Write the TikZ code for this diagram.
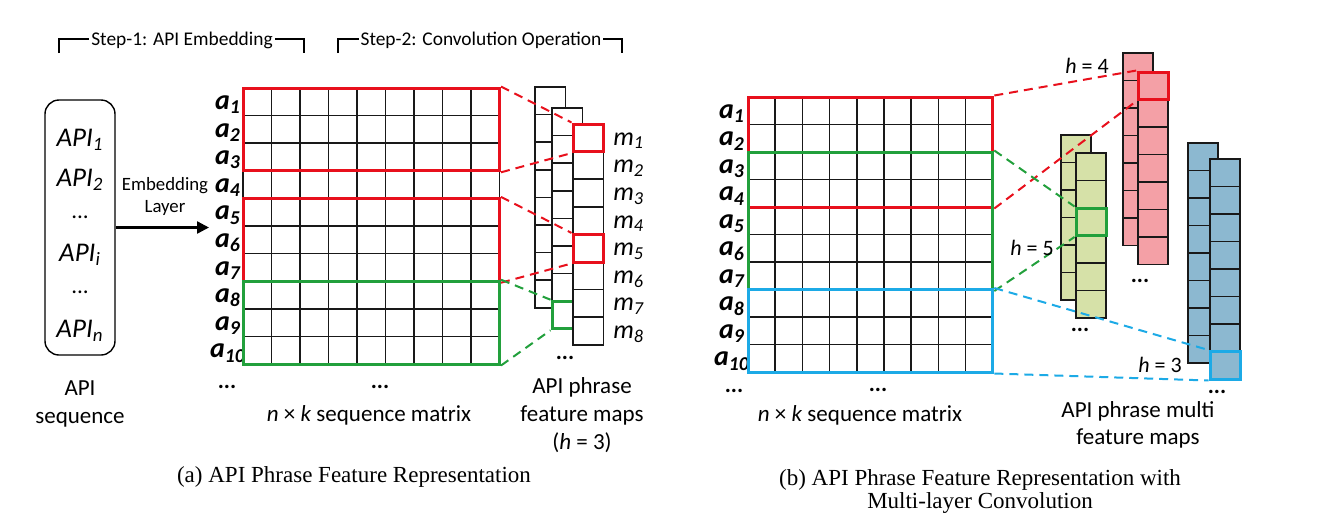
\documentclass[tikz,border=0pt]{standalone}
\usepackage{fontspec}
\setmainfont{Carlito}
\newfontfamily\capfont{Liberation Serif}
\usepackage{tikz}
\usetikzlibrary{arrows.meta}
\usetikzlibrary{fit}
\usetikzlibrary{positioning}
\definecolor{Cred}{RGB}{232,16,28}
\definecolor{Cgreen}{RGB}{34,160,60}
\definecolor{Cblue}{RGB}{28,170,230}
\definecolor{Pred}{RGB}{244,160,166}
\definecolor{Pgreen}{RGB}{214,225,168}
\definecolor{Pblue}{RGB}{140,184,208}

\begin{document}
\begin{tikzpicture}[x=0.5pt,y=-0.5pt]
	\tikzset{
		T/.style={font=\fontsize{11.5}{13.8}\selectfont,inner sep=0pt,align=center},
		S/.style={font=\fontsize{9.7}{11}\selectfont,inner sep=1pt,fill=white},
		P/.style={font=\fontsize{13.5}{15}\selectfont\itshape,inner sep=0pt},
		A/.style={font=\fontsize{14}{15}\selectfont\bfseries\itshape,inner sep=0pt},
		M/.style={font=\fontsize{13}{14}\selectfont\itshape,inner sep=0pt,anchor=west},
		H/.style={font=\fontsize{11}{12}\selectfont,inner sep=0pt},
		D/.style={font=\fontsize{11.5}{14}\selectfont\bfseries,inner sep=0pt},
		Cap/.style={font=\capfont\fontsize{11.5}{11.5}\selectfont,inner sep=0pt,align=center},
		cell/.style={draw=black!90,line width=0.8pt},
		box/.style={draw=#1,line width=1.5pt,inner sep=0pt},
		dl/.style={draw=#1,line width=1pt,dash pattern=on 4.5pt off 3pt},
	}
	\useasboundingbox (0,0) rectangle (1328,526);
	
	% (a) step brackets
	\draw[line width=0.6pt] (59,53) |- (304,39) -- (304,53);
	\node[S] (s1) at (182,40) {Step-1: API Embedding};
	\draw[line width=0.6pt] (338,53) |- (622,39) -- (622,53);
	\node[S] (s2) at (481,40) {Step-2: Convolution Operation};
	
	% (a) API sequence
	\node[draw,line width=0.7pt,rounded corners=7pt,inner sep=0pt,fit={(45,100) (115,355)}] (seq) {};
	\node[P] (p1) at (80,140) {API\textsubscript{1}};
	\node[P] (p2) at (80,180) {API\textsubscript{2}};
	\node[T] (p3) at (80,217) {...};
	\node[P] (p4) at (80,255) {API\textsubscript{i}};
	\node[T] (p5) at (80,292) {...};
	\node[P] (p6) at (80,331) {API\textsubscript{n}};
	\node[T] (l1) at (80,404) {API\\sequence};
	\coordinate (emb) at (209,227.5);
	\draw[line width=1.2pt,-{Triangle[length=6pt,width=6pt]}] (seq.east) -- (emb);
	\node[T,font=\fontsize{9.4}{11}\selectfont] (el) at (165,196) {Embedding\\Layer};
	
	% (a) sequence matrix
	\foreach \i in {0,...,9} \foreach \j in {0,...,8}
		\draw[cell] (243+\j*28.5,88+\i*27.6) rectangle ++(28.5,27.6);
	\foreach \i in {1,...,10}
		\node[A] (a\i) at (228,88+\i*27.6-13.8+3) {a\textsubscript{\i}};
	\node[box=Cred,fit={(243,88) (499.5,170.8)}] (r1) {};
	\node[box=Cred,fit={(243,198.4) (499.5,281.2)}] (r2) {};
	\node[box=Cgreen,fit={(243,281.2) (499.5,364)}] (g1) {};
	\node[D] (d1) at (227,387) {...};
	\node[D] (d2) at (380,387) {...};
	\node[T] (l2) at (369,415) {\textit{n} × \textit{k} sequence matrix};
	
	% (a) feature maps
	\foreach \k in {0,...,7} \draw[cell,fill=white] (535,87+\k*27.6) rectangle ++(30.5,27.6);
	\foreach \k in {0,...,7} \draw[cell,fill=white] (552,108+\k*27.6) rectangle ++(30.5,27.6);
	\node[box=Cgreen,fit={(552,301.2) (582.5,328.8)}] (gc) {};
	\foreach \k in {0,...,7} \draw[cell,fill=white] (573,124+\k*27.6) rectangle ++(30.5,27.6);
	\node[box=Cred,fit={(573,124) (603.5,151.6)}] (rc1) {};
	\node[box=Cred,fit={(573,234.4) (603.5,262)}] (rc2) {};
	\foreach \k in {1,...,8}
		\node[M] (m\k) at (613,124+\k*27.6-13.8+3) {m\textsubscript{\k}};
	\node[D] (d3) at (565,358) {...};
	\node[T] (l3) at (582,415) {API phrase\\feature maps\\(\textit{h} = 3)};
	
	\draw[dl=Cred] (r1.north east) -- (rc1.north west);
	\draw[dl=Cred] (r1.south east) -- (rc1.south west);
	\draw[dl=Cred] (r2.north east) -- (rc2.north west);
	\draw[dl=Cred] (r2.south east) -- (rc2.south west);
	\draw[dl=Cgreen] (g1.north east) -- (gc.north west);
	\draw[dl=Cgreen] (g1.south east) -- (gc.south west);
	
	\node[Cap] (ca) at (354,477) {(a) API Phrase Feature Representation};
	
	% (b) sequence matrix
	\foreach \i in {0,...,9} \foreach \j in {0,...,8}
		\draw[cell] (748+\j*27.2,97+\i*27.5) rectangle ++(27.2,27.5);
	\foreach \i in {1,...,10}
		\node[A] (b\i) at (732,97+\i*27.5-13.75+3) {a\textsubscript{\i}};
	\node[box=Cred,fit={(748,97) (992.8,207)}] (R1) {};
	\node[box=Cgreen,fit={(748,152) (992.8,289.5)}] (G1) {};
	\node[box=Cblue,fit={(748,289.5) (992.8,372)}] (B1) {};
	\node[D] (e1) at (734,391) {...};
	\node[D] (e2) at (878,390) {...};
	\node[T] (l4) at (860,415) {\textit{n} × \textit{k} sequence matrix};
	
	% (b) multi feature maps
	\foreach \x/\y/\n/\c in {1061/135/5/Pgreen,1076/153/5/Pgreen,1123/53/6/Pred,1138/72/6/Pred,1188/143/7/Pblue,1210/159/7/Pblue}
		\foreach \k in {0,...,\n} \draw[cell,fill=\c] (\x,\y+\k*27.5) rectangle ++(30,27.5);
	\node[box=Cred,fit={(1138,72) (1168,99.5)}] (RC) {};
	\node[box=Cgreen,fit={(1076,208) (1106,235.5)}] (GC) {};
	\node[box=Cblue,fit={(1210,351.5) (1240,379)}] (BC) {};
	
	\draw[dl=Cred] (R1.north east) -- (RC.north west);
	\draw[dl=Cred] (R1.south east) -- (RC.south west);
	\draw[dl=Cgreen] (G1.north east) -- (GC.north west);
	\draw[dl=Cgreen] (G1.south east) -- (GC.south west);
	\draw[dl=Cblue] (B1.north east) -- (BC.north west);
	\draw[dl=Cblue] (B1.south east) -- (BC.south west);
	
	\node[H] (h4) at (1087,66) {\textit{h} = 4};
	\node[H] (h5) at (1032,248) {\textit{h} = 5};
	\node[H] (h3) at (1160,365) {\textit{h} = 3};
	\node[D] (f1) at (1080,330) {...};
	\node[D] (f2) at (1140,281) {...};
	\node[D] (f3) at (1217,392) {...};
	\node[T] (l5) at (1138,425) {API phrase multi\\feature maps};
	
	\node[Cap] (cb) at (980,491) {(b) API Phrase Feature Representation with\\Multi-layer Convolution};
\end{tikzpicture}
\end{document}
